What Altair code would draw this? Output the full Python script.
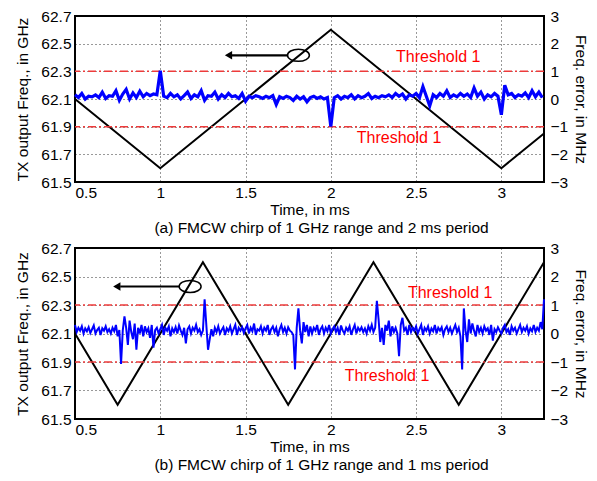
import altair as alt
import pandas as pd
import numpy as np

FONT = "Liberation Sans"

# ---------------- data ----------------
x_ticks = [0.5, 1, 1.5, 2, 2.5, 3]
left_ticks = [61.5, 61.7, 61.9, 62.1, 62.3, 62.5, 62.7]
right_ticks = [-3, -2, -1, 0, 1, 2, 3]
thresholds = [1, -1]
captions = ["(a) FMCW chirp of 1 GHz range and 2 ms period",
            "(b) FMCW chirp of 1 GHz range and 1 ms period"]

# triangle chirp (GHz)
tri_a_t = [0.5, 1.0, 2.0, 3.0, 3.25]
tri_a_f = [62.1, 61.6, 62.6, 61.6, 61.85]
tri_b_t = [0.5, 0.75, 1.25, 1.75, 2.25, 2.75, 3.25]
tri_b_f = [62.1, 61.6, 62.6, 61.6, 62.6, 61.6, 62.6]

# frequency error (MHz), panel (a): samples every 0.02 ms from 0.5 ms
err_a = [
    0.15, 0.05, 0.20, 0.00, 0.10, 0.08, 0.15, 0.05, 0.25, 0.02,
    0.12, 0.10, 0.30, -0.05, 0.18, 0.35, 0.00, 0.22, 0.05, 0.28,
    0.08, 0.20, 0.12, 0.18, 0.15, 1.02, 0.10, 0.05, 0.20, 0.08,
    0.15, 0.00, 0.12, 0.25, 0.02, 0.15, 0.08, 0.30, -0.05, 0.12,
    0.10, 0.25, 0.00, 0.15, 0.05, 0.20, 0.08, 0.12, 0.02, 0.20,
    -0.08, 0.10, 0.05, 0.12, 0.08, 0.02, 0.10, 0.05, 0.12, -0.20,
    0.08, 0.02, 0.10, 0.05, -0.05, 0.10, 0.00, 0.08, -0.10, 0.05,
    0.10, 0.02, 0.08, 0.00, 0.05, -1.00, 0.05, 0.12, 0.00, 0.10,
    0.05, 0.15, 0.00, 0.12, 0.05, 0.10, 0.20, 0.02, 0.10, 0.05,
    0.12, 0.08, 0.15, 0.05, 0.20, 0.10, 0.18, 0.00, 0.15, 0.10,
    0.20, 0.05, 0.45, 0.10, -0.25, 0.15, 0.05, 0.20, 0.10, 0.30,
    0.05, 0.15, 0.08, 0.20, 0.10, 0.18, 0.05, 0.40, 0.10, 0.25,
    0.00, 0.15, 0.08, 0.20, 0.10, -0.57, 0.50, 0.15, 0.20, 0.05,
    0.15, 0.10, 0.22, 0.05, 0.30, 0.08, 0.25, 0.05,
]

# frequency error (MHz), panel (b): samples every 0.01 ms from 0.5 ms
err_b = [
    0.30, 0.05, 0.20, 0.10, 0.25, 0.00, 0.18, 0.08, 0.22, 0.02,
    0.15, 0.28, 0.00, 0.12, 0.20, -0.05, 0.18, 0.10, 0.25, 0.05,
    0.15, 0.00, 0.20, 0.08, 0.30, -0.10, 0.12, -1.07, 0.10, 0.60,
    0.20, -0.40, 0.45, 0.05, -0.20, 0.35, -0.57, 0.20, 0.00, 0.30,
    -0.10, 0.25, 0.05, 0.18, -0.15, 0.30, -0.50, 0.12, 0.20, 0.00,
    0.15, 0.30, -0.05, 0.20, 0.10, 0.25, -0.10, 0.18, 0.05, 0.22,
    0.00, 0.28, 0.10, -0.05, 0.20, -0.35, 0.15, 0.25, 0.00, 0.20,
    0.10, 0.30, 0.05, 0.15, -0.05, 0.10, 1.20, 0.30, -0.57, -0.20,
    0.15, -0.10, 0.20, 0.05, 0.25, 0.00, 0.12, 0.22, -0.05, 0.18,
    0.08, 0.25, 0.00, 0.15, 0.30, -0.05, 0.20, 0.10, 0.22, 0.02,
    0.18, 0.30, 0.00, 0.20, 0.08, 0.35, -0.05, 0.15, 0.10, 0.25,
    0.00, 0.20, 0.10, 0.30, -0.05, 0.15, 0.25, 0.05, 0.20, -0.10,
    0.15, 0.30, 0.05, 0.20, 0.00, 0.22, 0.10, 0.05, -0.05, -1.26,
    0.20, 0.88, 0.10, -0.35, 0.40, 0.05, 0.30, -0.10, 0.25, 0.00,
    0.20, 0.10, 0.30, -0.05, 0.15, 0.25, 0.00, 0.20, 0.08, 0.30,
    0.00, 0.15, 0.25, 0.05, 0.20, -0.05, 0.28, 0.10, 0.00, 0.20,
    0.10, 0.25, -0.05, 0.15, 0.30, 0.00, 0.20, 0.10, 0.22, 0.05,
    0.18, 0.00, 0.25, 0.10, 0.30, 0.05, 0.20, 1.15, 0.50, -0.30,
    0.20, -0.40, 0.30, 0.10, 0.45, -0.10, 0.25, 0.05, 0.20, 0.00,
    -0.80, 0.30, 0.55, 0.10, 0.20, -0.05, 0.30, 0.05, 0.20, 0.10,
    0.25, 0.00, 0.15, 0.30, -0.05, 0.20, 0.10, 0.25, 0.00, 0.18,
    0.08, 0.30, 0.00, 0.20, 0.10, 0.22, -0.05, 0.15, 0.25, 0.05,
    0.20, 0.00, 0.15, 0.30, 0.05, 0.20, -0.10, -1.26, 0.88, 0.10,
    -0.30, 0.50, 0.00, 0.35, 0.10, -0.10, 0.30, 0.05, 0.20, 0.00,
    0.25, 0.10, 0.18, -0.05, 0.30, -0.25, 0.15, 0.05, 0.22, 0.10,
    0.00, 0.20, 0.30, 0.05, 0.15, -0.05, 0.25, 0.10, 0.20, 0.00,
    0.15, 0.30, 0.05, 0.20, 0.10, 0.25, 0.00, 0.18, 0.08, 0.30,
    0.05, 0.20, 0.10, 0.40, 0.15, 1.20,
]
err_a_t = list(np.round(0.5 + 0.02 * np.arange(len(err_a)), 3))
err_b_t = list(np.round(0.5 + 0.01 * np.arange(len(err_b)), 3))

# annotation placement (data coordinates)
ann_a = dict(ell_t=1.81, tip_t=1.40, f=62.416, lab_t=[2.63, 2.40], lab_e=[1.51, -1.40])
ann_b = dict(ell_t=1.175, tip_t=0.745, f=62.43, lab_t=[2.70, 2.33], lab_e=[1.43, -1.48])

ELLIPSE = "M -1 0 A 1 0.55 0 1 1 1 0 A 1 0.55 0 1 1 -1 0 Z"


def panel(tri_t, tri_f, et, ev, ewidth, caption, ann, height):
    xs = alt.Scale(domain=[0.5, 3.25], nice=False, zero=False)
    x_axis = alt.Axis(values=x_ticks, format="~g", title="Time, in ms", grid=True,
                      gridDash=[1, 3], gridColor="#000", gridWidth=1, gridOpacity=0.8,
                      ticks=False, domain=False, labelPadding=3, titlePadding=2)
    x = alt.X("t:Q", scale=xs, axis=x_axis)

    ls = alt.Scale(domain=[61.5, 62.7], nice=False, zero=False)
    l_axis = alt.Axis(values=left_ticks, format=".1f", title="TX output Freq., in GHz",
                      grid=True, gridDash=[1, 3], gridColor="#000", gridWidth=1,
                      gridOpacity=0.8, ticks=False, domain=False, labelPadding=4,
                      titlePadding=10)
    yl = alt.Y("f:Q", scale=ls, axis=l_axis)
    rs = alt.Scale(domain=[-3, 3], nice=False, zero=False)
    r_axis = alt.Axis(values=right_ticks, format="d", title="Freq. error, in MHz",
                      orient="right", grid=False, ticks=False, domain=False,
                      labelPadding=6, titlePadding=5)
    yr = alt.Y("e:Q", scale=rs, axis=r_axis)

    tri = alt.Chart(pd.DataFrame({"t": tri_t, "f": tri_f})).mark_line(
        color="black", strokeWidth=2).encode(x=x, y=yl)
    arrow_df = pd.DataFrame({"t": [ann["tip_t"] + 0.02], "t2": [ann["ell_t"] - 0.06], "f": [ann["f"]]})
    arrow = alt.Chart(arrow_df).mark_rule(color="black", strokeWidth=2.2).encode(
        x=x, x2="t2:Q", y=yl)
    head = alt.Chart(pd.DataFrame({"t": [ann["tip_t"]], "f": [ann["f"]]})).mark_point(
        shape="triangle-left", filled=True, color="black", size=70, opacity=1).encode(x=x, y=yl)
    ell = alt.Chart(pd.DataFrame({"t": [ann["ell_t"]], "f": [ann["f"]]})).mark_point(
        shape=ELLIPSE, filled=False, color="black", size=480, strokeWidth=1.5, opacity=1).encode(
        x=x, y=yl)
    left = alt.layer(tri, arrow, head, ell)

    thr = alt.Chart(pd.DataFrame({"e": thresholds})).mark_rule(
        color="#ee3b3b", strokeWidth=1.5, strokeDash=[8, 3, 2, 3]).encode(y=yr)
    blue = alt.Chart(pd.DataFrame({"t": et, "e": ev})).mark_line(
        color="#0000ff", strokeWidth=ewidth).encode(x=x, y=yr)
    labs = alt.Chart(pd.DataFrame({"t": ann["lab_t"], "e": ann["lab_e"],
                                   "s": ["Threshold 1", "Threshold 1"]})).mark_text(
        color="#ff0000", fontSize=16, font=FONT).encode(x=x, y=yr, text="s:N")
    right = alt.layer(thr, blue, labs)

    return alt.layer(left, right).resolve_scale(y="independent").properties(
        width=469, height=height,
        title=alt.TitleParams(caption, orient="bottom", fontSize=15.5, font=FONT,
                              fontWeight="normal", color="black", anchor="middle",
                              frame="group", dx=12, offset=3))


pa = panel(tri_a_t, tri_a_f, err_a_t, err_a, 3.2, captions[0], ann_a, 166)
pb = panel(tri_b_t, tri_b_f, err_b_t, err_b, 2, captions[1], ann_b, 171)

chart = alt.vconcat(pa, pb, spacing=2).properties(
    padding={"left": 6, "top": 0, "right": 0, "bottom": 0}
).configure_view(stroke="black", strokeWidth=2).configure_axis(
    labelFont=FONT, titleFont=FONT, labelFontSize=15.5, titleFontSize=15.5,
    labelColor="black", titleColor="black", titleFontWeight="normal"
)

chart.save("out.html", embed_options={"renderer": "svg", "actions": False})
